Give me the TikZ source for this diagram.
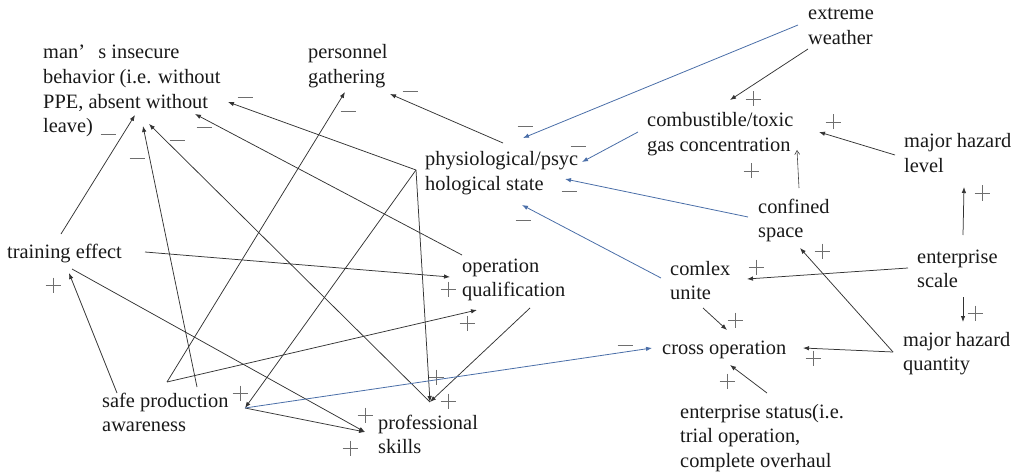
\documentclass[tikz,border=0pt]{standalone}
\usepackage{fontspec}
\setmainfont{Liberation Serif}
\usetikzlibrary{arrows.meta}
% multi-line label whose baseline is the first line
\newcommand\stack[1]{\begin{tabular}[t]{@{}l@{}}#1\end{tabular}}
\definecolor{linkblue}{HTML}{4A6EA8}
\definecolor{signgray}{HTML}{6E6E6E}
\begin{document}
\begin{tikzpicture}[x=1pt,y=-1pt,
  lbl/.style={anchor=base west, inner sep=0pt, text=black!90,
              font=\fontsize{20.4}{24.6}\selectfont},
  link/.style={draw=black!80, line width=0.75pt, -{Latex[length=6pt,width=4.5pt]}},
  plain/.style={draw=black!80, line width=0.75pt},
  blink/.style={draw=linkblue, line width=0.8pt, -{Latex[length=6pt,width=4.5pt]}},
  thin arrow/.style={draw=black!75, line width=0.6pt, -{Straight Barb[length=4pt,width=5pt]}},
  sign/.style={draw=signgray, line width=0.7pt},
  pos sign/.pic={\draw[sign] (-7.5,0) -- (7.5,0) (0,-7.5) -- (0,7.5);},
  neg sign/.pic={\draw[sign] (-7.5,0) -- (7.5,0);}
]
\useasboundingbox (0,0) rectangle (1019,473);

% ---------- variables ----------
\node[lbl] (man)  at (43,59)  {\stack{man’\hspace{0.4em} s insecure\\behavior (i.e. without\\PPE, absent without\\leave)}};
\node[lbl] (pers) at (308,59) {\stack{personnel\\gathering}};
\node[lbl] (ext)  at (808,20) {\stack{extreme\\weather}};
\node[lbl] (gas)  at (647,127) {\stack{combustible/toxic\\gas concentration}};
\node[lbl] (mhl)  at (904,148) {\stack{major hazard\\level}};
\node[lbl] (phys) at (425,166) {\stack{physiological/psyc\\hological state}};
\node[lbl] (conf) at (758,213) {\stack{confined\\space}};
\node[lbl] (te)   at (7,258)   {training effect};
\node[lbl] (opq)  at (462,272) {\stack{operation\\qualification}};
\node[lbl] (cu)   at (670,275) {\stack{comlex\\unite}};
\node[lbl] (es)   at (917,263) {\stack{enterprise\\scale}};
\node[lbl] (mhq)  at (903,346) {\stack{major hazard\\quantity}};
\node[lbl] (co)   at (662,354) {cross operation};
\node[lbl] (spa)  at (102,407) {\stack{safe production\\awareness}};
\node[lbl] (ps)   at (378,429) {\stack{professional\\skills}};
\node[lbl] (est)  at (680,418) {\stack{enterprise status(i.e.\\trial operation,\\complete overhaul}};

% ---------- connector end points ----------
\coordinate (teUp)    at (61,234);
\coordinate (teRight) at (145,252);
\coordinate (teLow)   at (72,269);
\coordinate (teIn)    at (69,273);
\coordinate (manA)    at (135,115);
\coordinate (manB)    at (143,126);
\coordinate (manC)    at (149,124);
\coordinate (manD)    at (195,114);
\coordinate (manE)    at (228,102);
\coordinate (persA)   at (345,92);
\coordinate (persB)   at (390,94);
\coordinate (physOut) at (503,143);
\coordinate (physHub) at (416,170);
\coordinate (physA)   at (523,138);
\coordinate (physB)   at (582,162);
\coordinate (physC)   at (565,179);
\coordinate (physD)   at (522,205);
\coordinate (spTop)   at (197,387);
\coordinate (spFork)  at (167,382);
\coordinate (spLeft)  at (117,393);
\coordinate (spDot)   at (245,408);
\coordinate (psDot)   at (430,402);
\coordinate (psDotB)  at (365,432);
\coordinate (opqOut)  at (462,255);
\coordinate (opqLow)  at (530,308);
\coordinate (opqInA)  at (450,277);
\coordinate (opqInB)  at (477,310);
\coordinate (extA)    at (808,49);
\coordinate (extB)    at (798,25);
\coordinate (gasOut)  at (638,132);
\coordinate (gasInA)  at (730,100);
\coordinate (gasInB)  at (819,132);
\coordinate (gasInC)  at (797,150);
\coordinate (mhlOut)  at (895,155);
\coordinate (mhlIn)   at (964,187);
\coordinate (confUp)  at (799,188);
\coordinate (confOut) at (748,217);
\coordinate (confIn)  at (800,248);
\coordinate (esUp)    at (963,235);
\coordinate (esDown)  at (963,297);
\coordinate (esLeft)  at (908,268);
\coordinate (mhqIn)   at (963,322);
\coordinate (mhqOut)  at (893,352);
\coordinate (cuIn)    at (747,279);
\coordinate (cuDown)  at (703,308);
\coordinate (cuOut)   at (661,278);
\coordinate (coInA)   at (727,330);
\coordinate (coInB)   at (803,348);
\coordinate (coInC)   at (730,365);
\coordinate (coInD)   at (652,348);
\coordinate (estOut)  at (767,393);

% ---------- black links ----------
\draw[link] (teUp) -- (manA);
\draw[link] (spTop) -- (manB);
\draw[link] (physHub) -- (manE);
\draw[link] (physHub) -- (spDot);
\draw[link] (physHub) -- (psDot);
\draw[link] (psDot) -- (manC);
\draw[link] (opqOut) -- (manD);
\draw[link] (spFork) -- (persA);
\draw[link] (physOut) -- (persB);
\draw[link] (spFork) -- (opqInB);
\draw[link] (teRight) -- (opqInA);
\draw[link] (opqLow) -- (psDot);
\draw[link] (spLeft) -- (teIn);
\draw[link] (teLow) -- (psDotB);
\draw[link] (spDot) -- (psDotB);
\draw[link] (extA) -- (gasInA);
\draw[link] (mhlOut) -- (gasInB);
\draw[thin arrow] (confUp) -- (gasInC);
\draw[link] (esUp) -- (mhlIn);
\draw[link] (esDown) -- (mhqIn);
\draw[link] (esLeft) -- (cuIn);
\draw[link] (mhqOut) -- (confIn);
\draw[link] (mhqOut) -- (coInB);
\draw[link] (cuDown) -- (coInA);
\draw[link] (estOut) -- (coInC);

% ---------- blue links ----------
\draw[blink] (extB) -- (physA);
\draw[blink] (gasOut) -- (physB);
\draw[blink] (confOut) -- (physC);
\draw[blink] (cuOut) -- (physD);
\draw[blink] (spDot) -- (coInD);

% ---------- polarity signs ----------
\foreach \p in {(108,134),(137,158),(177,140),(204,127),(245,97),(348,111),
                (410,91),(525,126),(578,146),(569,191),(523,220),(625,345)}
  \pic at \p {neg sign};
\foreach \p in {(53,285),(240,393),(365,415),(350,448),(436,377),(448,401),
                (448,289),(467,323),(753,99),(833,122),(751,171),(982,193),
                (975,313),(756,267),(822,251),(813,358),(735,320),(727,381)}
  \pic at \p {pos sign};
\end{tikzpicture}
\end{document}
